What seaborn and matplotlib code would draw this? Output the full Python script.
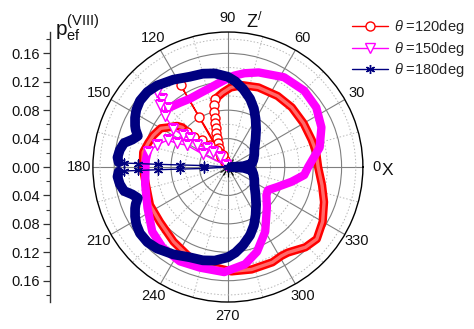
import numpy as np
import seaborn as sns
import matplotlib.pyplot as plt
from matplotlib.ticker import FuncFormatter

sns.set_theme(style="white")
plt.rcParams['font.family'] = ['Liberation Sans', 'DejaVu Sans']
plt.rcParams['mathtext.fontset'] = 'custom'
plt.rcParams['mathtext.rm'] = 'Liberation Sans'
plt.rcParams['mathtext.it'] = 'Liberation Sans:italic'

# ---- data (angle in deg, radius) ----
# theta = 120deg : dense band + sparse part near the centre
red_band_deg = [139.5, 139, 141, 147, 150, 157, 163, 170, 180, 190, 206, 219, 234, 247, 260,
                272, 283, 295, 301, 305, 314, 321, 330, 340, 349, 360, 370, 378, 390, 403,
                415, 429, 440, 448, 454, 458, 461]
red_band_r = [0.075, 0.085, 0.092, 0.102, 0.109, 0.114, 0.117, 0.121, 0.120, 0.118, 0.122,
              0.123, 0.130, 0.138, 0.142, 0.147, 0.148, 0.148, 0.146, 0.147, 0.157, 0.161,
              0.154, 0.144, 0.135, 0.127, 0.126, 0.124, 0.123, 0.123, 0.122, 0.120, 0.117,
              0.112, 0.105, 0.100, 0.097]
red_spoke_deg = [101, 102.7, 104, 105, 106.5, 107, 109.4, 111, 112.6, 115, 120, 125, 125,
                 120, 120, 113, 113, 123, 129, 134, 139, 139.5]
red_spoke_r = [0.097, 0.089, 0.0795, 0.071, 0.064, 0.057, 0.0505, 0.0434, 0.0364, 0.0294,
               0.0226, 0.017, 0.008, 0.082, 0.133, 0.010, 0.018, 0.028, 0.040, 0.052, 0.064,
               0.075]

# theta = 150deg
mag_band_deg = [169.5, 175, 180, 192, 207, 220.5, 231, 243, 254.5, 268, 280, 289, 300, 314,
                324, 330, 338, 347, 354, 360, 372, 383, 394, 405, 418, 432, 440, 446, 449,
                456, 463, 471, 479, 487, 495.5]
mag_band_r = [0.115, 0.116, 0.116, 0.119, 0.127, 0.140, 0.146, 0.149, 0.147, 0.148, 0.139,
              0.126, 0.105, 0.079, 0.067, 0.065, 0.075, 0.092, 0.108, 0.113, 0.132, 0.143,
              0.150, 0.152, 0.149, 0.140, 0.134, 0.129, 0.126, 0.119, 0.114, 0.111, 0.110,
              0.113, 0.118]
mag_spoke_deg = [135.5, 134, 133.5, 137.5, 141, 145, 145, 143, 144.6, 138, 135, 128, 140,
                 153, 152, 155, 156, 163, 169.5]
mag_spoke_r = [0.118, 0.133, 0.145, 0.129, 0.114, 0.094, 0.078, 0.067, 0.053, 0.040, 0.030,
               0.018, 0.004, 0.040, 0.065, 0.079, 0.093, 0.105, 0.115]

# theta = 180deg
navy_band_deg = [182.5, 185, 189, 193, 196, 199, 202, 204, 208, 212, 217, 223, 229, 238, 247,
                 255, 262, 270, 275, 281, 288, 294, 300, 307, 315, 326, 335, 345, 352, 357,
                 360, 363, 368, 375, 385, 394, 405, 413, 420, 426, 432, 439, 445, 450, 458,
                 465, 473, 482, 491, 497, 503, 508, 512, 516, 518, 521, 524, 527, 531, 535,
                 537.5]
navy_band_r = [0.154, 0.156, 0.154, 0.150, 0.140, 0.134, 0.140, 0.143, 0.148, 0.152, 0.155,
               0.155, 0.152, 0.145, 0.138, 0.136, 0.133, 0.127, 0.121, 0.112, 0.101, 0.090,
               0.078, 0.066, 0.055, 0.045, 0.041, 0.037, 0.034, 0.022, 0.004, 0.022, 0.034,
               0.037, 0.041, 0.045, 0.055, 0.066, 0.078, 0.090, 0.101, 0.112, 0.121, 0.127,
               0.133, 0.136, 0.138, 0.145, 0.152, 0.155, 0.155, 0.152, 0.148, 0.143, 0.140,
               0.134, 0.140, 0.150, 0.154, 0.156, 0.154]
navy_spoke_deg = [177.5, 177.8, 177.8, 177.8, 177.5, 176.5, 180, 183.5, 182.5, 182.2, 182.2,
                  182.2, 182.5]
navy_spoke_r = [0.154, 0.147, 0.127, 0.099, 0.067, 0.033, 0.0, 0.033, 0.067, 0.099, 0.127,
                0.147, 0.154]

theta_ticks = list(range(0, 360, 30))
r_major = [0.04, 0.08, 0.12, 0.16]
r_minor = [0.02, 0.06, 0.10, 0.14, 0.18]
left_major = [-0.16, -0.12, -0.08, -0.04, 0.0, 0.04, 0.08, 0.12, 0.16]
left_minor = [-0.18, -0.14, -0.10, -0.06, -0.02, 0.02, 0.06, 0.10, 0.14, 0.18]
rmax = 0.19

fig = plt.figure(figsize=(4.74, 3.29), dpi=100)
ax = fig.add_axes([0.196, 0.082, 0.5696, 0.8207], projection='polar')

series = [
    ('#ff0000', '#ff6a6a', 'o', r'$\theta$ =120deg', red_band_deg, red_band_r, red_spoke_deg, red_spoke_r, 6.0),
    ('#ff00ff', None, 'v', r'$\theta$ =150deg', mag_band_deg, mag_band_r, mag_spoke_deg, mag_spoke_r, 6.0),
    ('#000080', None, (6, 2, 0), r'$\theta$ =180deg', navy_band_deg, navy_band_r, navy_spoke_deg, navy_spoke_r, 7.0),
]
for col, inner, mk, lab, bd, br, sd, sr, lw in series:
    sns.lineplot(x=np.deg2rad(bd), y=br, sort=False, estimator=None, ax=ax, color=col,
                 lw=lw, solid_capstyle='round', solid_joinstyle='round')
    if inner is not None:
        # packed hollow circles leave a lighter core in the red band
        sns.lineplot(x=np.deg2rad(bd), y=br, sort=False, estimator=None, ax=ax, color=inner,
                     lw=lw * 0.4, solid_capstyle='round', solid_joinstyle='round')
    sns.lineplot(x=np.deg2rad(sd), y=sr, sort=False, estimator=None, ax=ax, color=col,
                 lw=1.0, marker=mk, ms=6.5, mfc='white' if mk != (6, 2, 0) else col,
                 mec=col, mew=1.0, label=lab)
if ax.get_legend() is not None:
    ax.get_legend().remove()

ax.set_xlabel('')
ax.set_ylabel('')
ax.set_ylim(0, rmax)
ax.set_xticks(np.deg2rad(theta_ticks))
ax.set_xticklabels([str(t) for t in theta_ticks])
ax.set_xticks(np.deg2rad([t + 15 for t in theta_ticks]), minor=True)
ax.set_yticks(r_major)
ax.set_yticks(r_minor, minor=True)
ax.set_yticklabels([])
ax.tick_params(axis='y', which='both', length=0)
ax.tick_params(axis='x', which='major', bottom=True, direction='in', length=7, width=0.9,
               color='black', labelsize=10.5, labelcolor='#111111', pad=3)
ax.tick_params(axis='x', which='minor', bottom=True, direction='in', length=3.5, width=0.8,
               color='black')
for axis in (ax.xaxis, ax.yaxis):
    axis.grid(True, which='major', color='#7f7f7f', lw=0.8, ls='-')
    axis.grid(True, which='minor', color='#b8b8b8', lw=0.7, ls=(0, (1.5, 2)))
ax.set_axisbelow(True)
ax.spines['polar'].set_color('black')
ax.spines['polar'].set_linewidth(1.0)

# left radial scale
lax = fig.add_axes([50 / 474, 0.082, 0.0001, 0.8207])
lax.set_ylim(-rmax, rmax)
for s in ['top', 'right', 'bottom']:
    lax.spines[s].set_visible(False)
lax.spines['left'].set_color('#333333')
lax.spines['left'].set_linewidth(1.0)
lax.set_xticks([])
lax.set_yticks(left_major)
lax.set_yticks(left_minor, minor=True)
lax.yaxis.set_major_formatter(FuncFormatter(lambda v, p: f'{abs(v):.2f}'))
lax.tick_params(axis='y', which='major', left=True, direction='out', length=5, width=0.9,
                color='#333333', labelsize=10.5, labelcolor='#111111', pad=2)
lax.tick_params(axis='y', which='minor', left=True, direction='out', length=3, width=0.8,
                color='#333333')
lax.patch.set_visible(False)

fig.text(55 / 474, 1 - 36 / 329, r'p$_{\rm ef}^{\rm (VIII)}$', fontsize=15, color='#111111')
fig.text(246 / 474, 1 - 28 / 329, r'Z$^{/}$', fontsize=13, color='#111111')
fig.text(382 / 474, 1 - 175 / 329, 'X', fontsize=12.5, color='#111111')

h, l = ax.get_legend_handles_labels()
fig.legend(h, l, loc='upper left', bbox_to_anchor=(352 / 474, 1 - 18 / 329), frameon=False,
           fontsize=10.5, handlelength=2.5, handletextpad=0.4, labelspacing=0.25,
           borderaxespad=0, borderpad=0)

fig.savefig('out.png', dpi=100)
